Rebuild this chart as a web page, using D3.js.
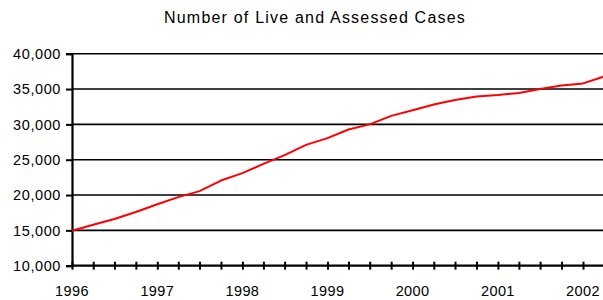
<!DOCTYPE html>
<html>
<head>
<meta charset="utf-8">
<script src="https://cdn.jsdelivr.net/npm/d3@7"></script>
<style>
  body { margin: 0; background: #fff; }
  svg { display: block; font-family: "Liberation Sans", Arial, sans-serif; }
</style>
</head>
<body>
<svg id="chart" width="603" height="300"></svg>
<script>
// quarterly figures
const quarters = [
  "1996-01", "1996-04", "1996-07", "1996-10",
  "1997-01", "1997-04", "1997-07", "1997-10",
  "1998-01", "1998-04", "1998-07", "1998-10",
  "1999-01", "1999-04", "1999-07", "1999-10",
  "2000-01", "2000-04", "2000-07", "2000-10",
  "2001-01", "2001-04", "2001-07", "2001-10",
  "2002-01", "2002-04"
];
const cases = [
  14950, 15800, 16600, 17600,
  18700, 19700, 20550, 22050,
  23100, 24400, 25650, 27100,
  28050, 29270, 30000, 31200,
  32000, 32800, 33450, 33950,
  34150, 34440, 35000, 35500,
  35800, 36770
];
const yTicks = [10000, 15000, 20000, 25000, 30000, 35000, 40000];
const yearLabels = ["1996", "1997", "1998", "1999", "2000", "2001", "2002"];
const title = "Number of Live and Assessed Cases";

const parse = d3.timeParse("%Y-%m");
const data = quarters.map((q, i) => ({date: parse(q), value: cases[i]}));

const svg = d3.select("#chart");
const plotLeft = 72, plotRight = 583, plotTop = 53.7, plotBottom = 265.7;

const x = d3.scaleTime()
    .domain([parse("1996-01"), parse("2002-01")])
    .range([plotLeft, plotRight]);
const y = d3.scaleLinear()
    .domain([10000, 40000])
    .range([plotBottom, plotTop]);

svg.append("text")
    .attr("x", 315)
    .attr("y", 23)
    .attr("text-anchor", "middle")
    .style("font-size", "16px")
    .style("letter-spacing", "1.2px")
    .attr("fill", "#000")
    .text(title);

// gridlines
svg.append("g")
    .selectAll("line")
    .data(yTicks.slice(1))
    .join("line")
    .attr("x1", plotLeft)
    .attr("x2", 603)
    .attr("y1", d => y(d))
    .attr("y2", d => y(d))
    .attr("stroke", "#000")
    .attr("stroke-width", 1.6);

// y axis
const yAxis = svg.append("g")
    .attr("transform", `translate(${plotLeft},0)`)
    .call(d3.axisLeft(y).tickValues(yTicks).tickSize(6).tickPadding(5)
          .tickFormat(d3.format(",")));
yAxis.select(".domain").attr("stroke-width", 2.2);
yAxis.selectAll(".tick line").attr("stroke-width", 2);
yAxis.selectAll("text")
    .style("font-size", "14.5px")
    .style("font-family", "Liberation Sans, Arial, sans-serif")
    .style("letter-spacing", "0.6px")
    .attr("fill", "#000");

// x axis: quarter ticks crossing the axis line
const xAxis = svg.append("g")
    .attr("transform", `translate(0,${plotBottom})`)
    .call(d3.axisBottom(x)
          .ticks(d3.timeMonth.every(3))
          .tickSizeInner(4).tickSizeOuter(0)
          .tickFormat(""));
xAxis.select(".domain")
    .attr("d", `M${plotLeft},0H603`)
    .attr("stroke-width", 2.2);
xAxis.selectAll(".tick line")
    .attr("y1", -4)
    .attr("stroke-width", 2);

svg.append("g")
    .selectAll("text")
    .data(yearLabels)
    .join("text")
    .attr("x", d => x(parse(d + "-01")))
    .attr("y", 296)
    .attr("text-anchor", "middle")
    .style("font-size", "14.5px")
    .style("letter-spacing", "0.4px")
    .attr("fill", "#000")
    .text(d => d);

const line = d3.line()
    .x(d => x(d.date))
    .y(d => y(d.value));

svg.append("path")
    .datum(data)
    .attr("fill", "none")
    .attr("stroke", "#ff0000")
    .attr("stroke-width", 2)
    .attr("stroke-linejoin", "round")
    .attr("d", line);
</script>
</body>
</html>
